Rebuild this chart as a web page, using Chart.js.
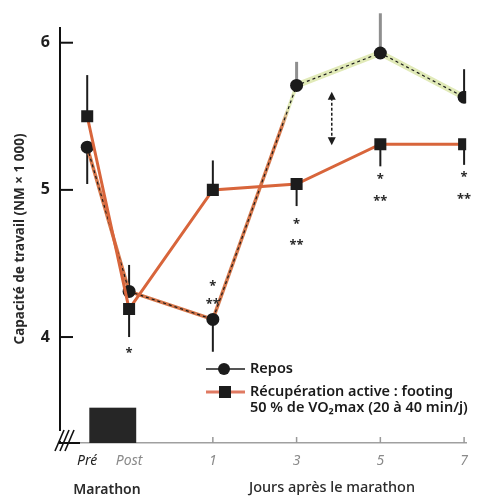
<!DOCTYPE html>
<html>
<head>
<meta charset="utf-8">
<script src="https://cdn.jsdelivr.net/npm/chart.js@4"></script>
<style>
  html, body { margin: 0; background: #fff; }
  canvas { display: block; }
</style>
</head>
<body>
<canvas id="chart" width="478" height="497"></canvas>
<script>
// values (NM x 1000)
const xLabels = ['Pré', 'Post', '1', '3', '5', '7'];
const xDays = [-2, -1, 1, 3, 5, 7];
const repos = [5.29, 4.31, 4.12, 5.71, 5.93, 5.63];
const reposErr = [5.04, 4.49, 3.90, 5.87, 6.20, 5.82];
const actif = [5.50, 4.19, 5.00, 5.04, 5.31, 5.31];
const actifErr = [5.78, 4.00, 5.20, 4.89, 5.16, 5.17];
const starDays = [-1, 1, 1, 3, 3, 5, 5, 7, 7];
const starVals = [3.92, 4.37, 4.25, 4.79, 4.65, 5.10, 4.95, 5.11, 4.96];
const starText = ['*', '*', '**', '*', '**', '*', '**', '*', '**'];
const yTicks = [4, 5, 6];
const arrowSpan = [3.84, 5.66, 5.31];       // day, top, bottom
const marathonBlock = [-1.95, -0.83, 3.52]; // from, to, top

const FONT = '"Noto Sans", "Open Sans", sans-serif';
const ORANGE = '#d5764a', GREEN = '#e1eab8';

function pts(ys){ return ys.map((v, i) => ({ x: xDays[i], y: v })); }

function seg(ctx, x1, y1, x2, y2){
  ctx.beginPath(); ctx.moveTo(x1, y1); ctx.lineTo(x2, y2); ctx.stroke();
}

function reposColor(c){
  if (c.p0DataIndex >= 3) return GREEN;
  if (c.p0DataIndex === 2) {
    const g = c.chart.ctx.createLinearGradient(c.p0.x, c.p0.y, c.p1.x, c.p1.y);
    g.addColorStop(0, ORANGE); g.addColorStop(0.82, ORANGE);
    g.addColorStop(0.9, GREEN); g.addColorStop(1, GREEN);
    return g;
  }
  return ORANGE;
}

const extras = {
  id: 'extras',
  beforeDatasetsDraw(chart){
    const { ctx, scales: { x, y } } = chart;
    ctx.save();
    xDays.forEach((d, i) => {
      const px = x.getPixelForValue(d);
      const grey = (i === 3 || i === 4);
      ctx.strokeStyle = grey ? '#8f8f8f' : '#1c1c1c';
      ctx.lineWidth = grey ? 3 : 2;
      seg(ctx, px, y.getPixelForValue(repos[i]), px, y.getPixelForValue(reposErr[i]));
      ctx.strokeStyle = '#1c1c1c'; ctx.lineWidth = 2;
      seg(ctx, px, y.getPixelForValue(actif[i]), px, y.getPixelForValue(actifErr[i]));
    });
    ctx.restore();
  },
  afterDatasetsDraw(chart){
    const { ctx, chartArea: a, scales: { x, y } } = chart;
    ctx.save();

    // inward tick marks
    ctx.strokeStyle = '#111'; ctx.lineWidth = 2;
    yTicks.forEach(v => { const py = y.getPixelForValue(v); seg(ctx, a.left, py, a.left + 13, py); });
    ctx.strokeStyle = '#999'; ctx.lineWidth = 1.5;
    xDays.slice(2).forEach(d => { const px = x.getPixelForValue(d); seg(ctx, px, a.bottom, px, a.bottom - 6); });

    // marathon block
    const bx1 = x.getPixelForValue(marathonBlock[0]), bx2 = x.getPixelForValue(marathonBlock[1]);
    const by = y.getPixelForValue(marathonBlock[2]);
    ctx.fillStyle = '#262626';
    ctx.fillRect(bx1, by, bx2 - bx1, a.bottom - by);

    // axis break
    ctx.fillStyle = '#fff';
    ctx.fillRect(a.left - 3, a.bottom - 12, 6, 10);
    ctx.strokeStyle = '#111'; ctx.lineWidth = 1.6;
    [0, 5, 10].forEach(o => seg(ctx, a.left - 5 + o, a.bottom + 8, a.left + 4 + o, a.bottom - 13));
    ctx.lineWidth = 2;
    seg(ctx, a.left, a.bottom, a.left + 20, a.bottom);

    // significance stars
    ctx.fillStyle = '#2a2a2a';
    ctx.font = 'bold 13px ' + FONT;
    ctx.textAlign = 'center'; ctx.textBaseline = 'middle';
    starText.forEach((t, i) => {
      ctx.fillText(t, x.getPixelForValue(starDays[i]), y.getPixelForValue(starVals[i]) + 4);
    });

    // double arrow between curves
    const ax = x.getPixelForValue(arrowSpan[0]);
    const at = y.getPixelForValue(arrowSpan[1]), ab = y.getPixelForValue(arrowSpan[2]);
    ctx.strokeStyle = '#1c1c1c'; ctx.lineWidth = 1.5; ctx.setLineDash([3, 2]);
    seg(ctx, ax, at + 5, ax, ab - 5);
    ctx.setLineDash([]);
    ctx.fillStyle = '#1c1c1c';
    ctx.beginPath(); ctx.moveTo(ax, at - 1); ctx.lineTo(ax - 4, at + 7); ctx.lineTo(ax + 4, at + 7); ctx.closePath(); ctx.fill();
    ctx.beginPath(); ctx.moveTo(ax, ab + 1); ctx.lineTo(ax - 4, ab - 7); ctx.lineTo(ax + 4, ab - 7); ctx.closePath(); ctx.fill();

    // legend
    const lx = 206, lx2 = 245, ly1 = 369, ly2 = 392;
    ctx.strokeStyle = '#1c1c1c'; ctx.lineWidth = 1.5;
    seg(ctx, lx, ly1, lx2, ly1);
    ctx.beginPath(); ctx.arc(224, ly1, 6, 0, Math.PI * 2); ctx.fill();
    ctx.strokeStyle = '#e07a62'; ctx.lineWidth = 3;
    seg(ctx, lx, ly2, lx2, ly2);
    ctx.fillRect(219, ly2 - 6, 12, 12);
    ctx.fillStyle = '#1a1a1a';
    ctx.font = '600 14.5px ' + FONT;
    ctx.textAlign = 'left';
    ctx.fillText('Repos', 250, ly1);
    ctx.fillText('Récupération active : footing', 250, ly2, 203);
    ctx.fillText('50 % de VO\u2082max (20 à 40 min/j)', 250, 408, 223);

    // axis titles
    ctx.textAlign = 'center';
    ctx.font = '600 14px ' + FONT;
    ctx.fillStyle = '#2a2a2a';
    ctx.fillText('Marathon', 107, 490, 70);
    ctx.font = '500 14.5px ' + FONT;
    ctx.fillText('Jours après le marathon', 332, 488, 172);
    ctx.translate(20, 239);
    ctx.rotate(-Math.PI / 2);
    ctx.font = 'bold 13.5px ' + FONT;
    ctx.fillText('Capacité de travail (NM × 1 000)', 0, 0, 212);
    ctx.restore();
  }
};

new Chart(document.getElementById('chart'), {
  type: 'line',
  data: {
    datasets: [
      {
        label: 'Récupération active',
        data: pts(actif),
        borderColor: '#d8653b',
        borderWidth: 3,
        pointStyle: 'rect',
        pointRadius: 8.5,
        pointBackgroundColor: '#1c1c1c',
        pointBorderWidth: 0,
        order: 0
      },
      {
        label: 'Repos',
        data: pts(repos),
        borderColor: '#1a1a1a',
        borderWidth: 1.2,
        borderDash: [3, 3],
        pointRadius: 6.5,
        pointBackgroundColor: '#1a1a1a',
        pointBorderWidth: 0,
        order: 1
      },
      {
        label: 'Repos (trace)',
        data: pts(repos),
        borderWidth: 4,
        borderColor: ORANGE,
        segment: {
          borderColor: reposColor,
          borderWidth: c => c.p0DataIndex >= 3 ? 6 : 3.5
        },
        pointRadius: 0,
        order: 2
      }
    ]
  },
  options: {
    responsive: false,
    animation: false,
    layout: { padding: { top: 28, right: 3, left: 0, bottom: 0 } },
    plugins: { legend: { display: false }, tooltip: { enabled: false } },
    scales: {
      x: {
        type: 'linear',
        min: -2.65,
        max: 7.05,
        afterFit: s => { s.height = 54; },
        afterBuildTicks: s => { s.ticks = xDays.map(v => ({ value: v })); },
        grid: { display: false, drawTicks: false },
        border: { display: true, color: '#a0a0a0', width: 1.5 },
        ticks: {
          autoSkip: false,
          maxRotation: 0,
          padding: 10,
          font: { family: FONT, size: 14, style: 'italic' },
          color: c => c.index === 0 ? '#1e1e1e' : '#8a8a8a',
          callback: v => xLabels[xDays.indexOf(v)]
        }
      },
      y: {
        min: 3.28,
        max: 6.1,
        afterFit: s => { s.width = 60; },
        afterBuildTicks: s => { s.ticks = yTicks.map(v => ({ value: v })); },
        grid: { display: false, drawTicks: false },
        border: { display: true, color: '#111', width: 2 },
        ticks: {
          padding: 10,
          font: { family: FONT, size: 16, weight: 'bold' },
          color: '#1e1e1e'
        }
      }
    }
  },
  plugins: [extras]
});
</script>
</body>
</html>
